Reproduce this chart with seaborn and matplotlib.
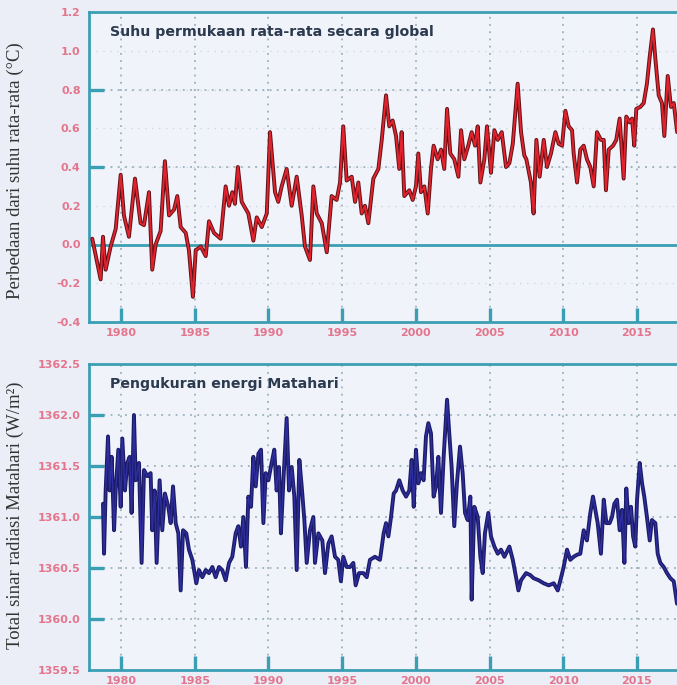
import matplotlib
matplotlib.use("Agg")
import matplotlib.pyplot as plt
import matplotlib.ticker as mticker
import numpy as np
import pandas as pd
import seaborn as sns

# global surface temperature anomaly (deg C)
temp_years = [
    1978.05, 1978.62, 1978.78, 1978.96, 1979.30, 1979.64, 1979.98, 1980.20, 1980.54, 1980.95,
    1981.33, 1981.56, 1981.90, 1982.12, 1982.35, 1982.69, 1982.98, 1983.26, 1983.60, 1983.82,
    1984.05, 1984.39, 1984.61, 1984.88, 1985.07, 1985.41, 1985.75, 1985.97, 1986.31, 1986.76,
    1987.10, 1987.33, 1987.55, 1987.73, 1987.93, 1988.19, 1988.64, 1988.98, 1989.21, 1989.55,
    1989.89, 1990.11, 1990.45, 1990.67, 1990.90, 1991.24, 1991.58, 1991.92, 1992.26, 1992.48,
    1992.82, 1993.05, 1993.28, 1993.62, 1993.96, 1994.29, 1994.63, 1994.86, 1995.08, 1995.31,
    1995.65, 1995.88, 1996.10, 1996.33, 1996.55, 1996.78, 1997.12, 1997.46, 1997.69, 1997.98,
    1998.20, 1998.43, 1998.66, 1998.88, 1999.04, 1999.22, 1999.56, 1999.79, 2000.01, 2000.17,
    2000.35, 2000.58, 2000.81, 2001.03, 2001.21, 2001.48, 2001.71, 2001.93, 2002.12, 2002.34,
    2002.61, 2002.89, 2003.07, 2003.29, 2003.56, 2003.79, 2004.02, 2004.20, 2004.38, 2004.65,
    2004.83, 2005.10, 2005.33, 2005.56, 2005.83, 2006.12, 2006.35, 2006.58, 2006.91, 2007.14,
    2007.36, 2007.50, 2007.81, 2007.99, 2008.18, 2008.40, 2008.68, 2008.90, 2009.17, 2009.47,
    2009.69, 2009.92, 2010.15, 2010.37, 2010.60, 2010.71, 2010.94, 2011.16, 2011.39, 2011.61,
    2011.84, 2012.07, 2012.29, 2012.56, 2012.75, 2012.90, 2013.09, 2013.38, 2013.60, 2013.83,
    2014.10, 2014.28, 2014.51, 2014.67, 2014.82, 2014.96, 2015.23, 2015.46, 2015.68, 2015.87,
    2016.09, 2016.25, 2016.48, 2016.70, 2016.86, 2017.09, 2017.31, 2017.50, 2017.73,
]
temp_vals = [
    0.03, -0.18, 0.04, -0.13, -0.01, 0.08, 0.36, 0.15, 0.04, 0.34,
    0.11, 0.10, 0.27, -0.13, 0.00, 0.07, 0.43, 0.15, 0.18, 0.25,
    0.09, 0.06, -0.03, -0.27, -0.03, -0.01, -0.06, 0.12, 0.06, 0.03,
    0.30, 0.20, 0.27, 0.21, 0.40, 0.22, 0.16, 0.02, 0.14, 0.09,
    0.16, 0.58, 0.27, 0.22, 0.30, 0.39, 0.20, 0.35, 0.15, -0.01,
    -0.08, 0.30, 0.16, 0.11, -0.04, 0.25, 0.23, 0.32, 0.61, 0.33,
    0.35, 0.22, 0.32, 0.16, 0.20, 0.11, 0.34, 0.39, 0.54, 0.77,
    0.61, 0.64, 0.56, 0.39, 0.58, 0.25, 0.28, 0.23, 0.30, 0.47,
    0.27, 0.30, 0.16, 0.39, 0.51, 0.44, 0.49, 0.39, 0.70, 0.47,
    0.44, 0.35, 0.59, 0.44, 0.51, 0.58, 0.51, 0.61, 0.32, 0.44,
    0.61, 0.37, 0.59, 0.54, 0.58, 0.40, 0.42, 0.52, 0.83, 0.58,
    0.46, 0.44, 0.32, 0.16, 0.54, 0.35, 0.54, 0.40, 0.47, 0.58,
    0.52, 0.51, 0.69, 0.61, 0.59, 0.47, 0.32, 0.49, 0.51, 0.44,
    0.40, 0.30, 0.58, 0.54, 0.54, 0.28, 0.49, 0.51, 0.54, 0.65,
    0.34, 0.66, 0.63, 0.65, 0.51, 0.70, 0.71, 0.73, 0.83, 0.97,
    1.11, 0.96, 0.77, 0.73, 0.56, 0.87, 0.71, 0.73, 0.58,
]

# total solar irradiance (W/m2)
tsi_years = [
    1978.78, 1978.85, 1978.96, 1979.12, 1979.23, 1979.37, 1979.53, 1979.64, 1979.82, 1979.98,
    1980.09, 1980.27, 1980.43, 1980.59, 1980.72, 1980.88, 1981.00, 1981.22, 1981.40, 1981.56,
    1981.79, 1982.01, 1982.12, 1982.28, 1982.42, 1982.62, 1982.80, 1982.98, 1983.21, 1983.37,
    1983.53, 1983.71, 1983.89, 1984.05, 1984.21, 1984.43, 1984.61, 1984.84, 1985.11, 1985.29,
    1985.52, 1985.75, 1985.97, 1986.20, 1986.42, 1986.65, 1986.87, 1987.10, 1987.33, 1987.55,
    1987.78, 1987.96, 1988.14, 1988.30, 1988.48, 1988.64, 1988.82, 1988.98, 1989.14, 1989.32,
    1989.50, 1989.66, 1989.82, 1990.00, 1990.22, 1990.40, 1990.56, 1990.72, 1990.85, 1991.01,
    1991.24, 1991.40, 1991.58, 1991.76, 1991.92, 1992.10, 1992.26, 1992.44, 1992.60, 1992.82,
    1993.05, 1993.16, 1993.39, 1993.66, 1993.84, 1994.07, 1994.29, 1994.52, 1994.74, 1994.92,
    1995.08, 1995.31, 1995.54, 1995.76, 1995.92, 1996.15, 1996.44, 1996.67, 1996.89, 1997.23,
    1997.57, 1997.82, 1997.98, 1998.14, 1998.32, 1998.50, 1998.66, 1998.88, 1999.11, 1999.34,
    1999.56, 1999.72, 1999.86, 2000.01, 2000.17, 2000.35, 2000.53, 2000.69, 2000.85, 2001.03,
    2001.21, 2001.37, 2001.53, 2001.71, 2001.89, 2002.12, 2002.27, 2002.43, 2002.61, 2002.79,
    2003.00, 2003.18, 2003.34, 2003.52, 2003.70, 2003.79, 2003.97, 2004.20, 2004.38, 2004.54,
    2004.69, 2004.92, 2005.10, 2005.33, 2005.56, 2005.78, 2006.01, 2006.35, 2006.58, 2006.80,
    2006.96, 2007.14, 2007.48, 2007.77, 2007.99, 2008.33, 2008.68, 2009.02, 2009.36, 2009.63,
    2009.81, 2010.03, 2010.26, 2010.48, 2010.71, 2010.94, 2011.16, 2011.39, 2011.61, 2011.84,
    2012.02, 2012.18, 2012.34, 2012.56, 2012.75, 2012.93, 2013.15, 2013.31, 2013.47, 2013.65,
    2013.83, 2013.99, 2014.15, 2014.28, 2014.44, 2014.60, 2014.74, 2014.89, 2015.01, 2015.19,
    2015.35, 2015.50, 2015.68, 2015.87, 2016.02, 2016.25, 2016.41, 2016.59, 2016.82, 2017.04,
    2017.27, 2017.50, 2017.72,
]
tsi_vals = [
    1361.13, 1360.64, 1361.26, 1361.79, 1361.26, 1361.59, 1360.87, 1361.26, 1361.66, 1361.10,
    1361.77, 1361.26, 1361.53, 1361.59, 1361.04, 1362.00, 1361.36, 1361.53, 1360.55, 1361.46,
    1361.40, 1361.43, 1360.87, 1361.26, 1360.55, 1361.36, 1360.87, 1361.23, 1361.10, 1360.94,
    1361.30, 1360.94, 1360.84, 1360.28, 1360.87, 1360.84, 1360.68, 1360.58, 1360.35, 1360.48,
    1360.41, 1360.48, 1360.45, 1360.51, 1360.41, 1360.51, 1360.48, 1360.38, 1360.55, 1360.61,
    1360.84, 1360.91, 1360.71, 1361.00, 1360.51, 1361.20, 1361.10, 1361.59, 1361.30, 1361.62,
    1361.66, 1360.94, 1361.43, 1361.36, 1361.53, 1361.66, 1361.26, 1361.49, 1360.84, 1361.33,
    1361.97, 1361.26, 1361.49, 1361.20, 1360.48, 1361.56, 1361.30, 1360.97, 1360.55, 1360.87,
    1361.00, 1360.55, 1360.84, 1360.77, 1360.45, 1360.74, 1360.81, 1360.61, 1360.58, 1360.37,
    1360.61, 1360.51, 1360.51, 1360.55, 1360.33, 1360.45, 1360.45, 1360.41, 1360.58, 1360.61,
    1360.58, 1360.84, 1360.94, 1360.81, 1361.00, 1361.23, 1361.26, 1361.36, 1361.26, 1361.20,
    1361.26, 1361.56, 1361.10, 1361.66, 1361.33, 1361.43, 1361.36, 1361.79, 1361.92, 1361.82,
    1361.20, 1361.30, 1361.59, 1361.04, 1361.59, 1362.15, 1361.82, 1361.49, 1360.91, 1361.33,
    1361.69, 1361.43, 1361.04, 1360.97, 1361.20, 1360.19, 1361.10, 1361.00, 1360.61, 1360.45,
    1360.84, 1361.04, 1360.81, 1360.71, 1360.64, 1360.68, 1360.61, 1360.71, 1360.58, 1360.41,
    1360.28, 1360.38, 1360.45, 1360.43, 1360.40, 1360.38, 1360.35, 1360.33, 1360.35, 1360.28,
    1360.38, 1360.51, 1360.68, 1360.58, 1360.61, 1360.63, 1360.64, 1360.87, 1360.77, 1361.04,
    1361.20, 1361.07, 1360.94, 1360.64, 1361.17, 1360.94, 1360.94, 1361.00, 1361.13, 1361.17,
    1360.87, 1361.07, 1360.55, 1361.28, 1360.94, 1361.10, 1360.81, 1360.71, 1361.17, 1361.53,
    1361.33, 1361.20, 1361.00, 1360.77, 1360.97, 1360.94, 1360.64, 1360.55, 1360.51, 1360.45,
    1360.40, 1360.37, 1360.15,
]

year_ticks = [1980, 1985, 1990, 1995, 2000, 2005, 2010, 2015]
temp_ticks = [-0.4, -0.2, 0.0, 0.2, 0.4, 0.6, 0.8, 1.0, 1.2]
tsi_ticks = [1359.5, 1360.0, 1360.5, 1361.0, 1361.5, 1362.0, 1362.5]

df_temp = pd.DataFrame({"year": temp_years, "val": temp_vals})
df_tsi = pd.DataFrame({"year": tsi_years, "val": tsi_vals})

sns.set_style("white")
plt.rcParams["font.family"] = ["DejaVu Sans"]

BG = "#eceef7"
FACE = "#f1f3fa"
TEAL = "#3b9fb3"
GRID = "#8aa6b2"
TICKC = "#e2607a"

fig = plt.figure(figsize=(6.77, 6.85), dpi=100, facecolor=BG)
ax1 = fig.add_axes([89 / 677, 1 - 322 / 685, 588 / 677, 310 / 685])
ax2 = fig.add_axes([89 / 677, 1 - 670 / 685, 588 / 677, 306 / 685])

sns.lineplot(data=df_temp, x="year", y="val", ax=ax1, color="#5c1318", lw=2.8, zorder=3)
sns.lineplot(data=df_temp, x="year", y="val", ax=ax1, color="#e2222c", lw=1.4, zorder=4)
sns.lineplot(data=df_tsi, x="year", y="val", ax=ax2, color="#1b1b66", lw=2.8, zorder=3)
sns.lineplot(data=df_tsi, x="year", y="val", ax=ax2, color="#2e2ea0", lw=1.0, zorder=4)

ax1.axhline(0, color=TEAL, lw=2, zorder=2)

# (axes, tick values, limits, strong grid/tick rows, faint grid, title, y label, label centre px)
panels = [
    (ax1, temp_ticks, (-0.4, 1.2), [0.8, 0.4], True,
     "Suhu permukaan rata-rata secara global", "Perbedaan dari suhu rata-rata (°C)", 171),
    (ax2, tsi_ticks, (1359.5, 1362.5), [1360.0, 1360.5, 1361.0, 1361.5, 1362.0], False,
     "Pengukuran energi Matahari", "Total sinar radiasi Matahari (W/m²)", 515),
]

for ax, yt, ylim, ystrong, faint, title, ylabel, ylab_y in panels:
    ax.set_facecolor(FACE)
    ax.set_xlim(1977.83, 2017.72)
    ax.set_ylim(*ylim)
    ax.set_xticks(year_ticks)
    ax.set_xticklabels([str(y) for y in year_ticks])
    ax.set_yticks(yt)
    ax.set_yticklabels([f"{v:.1f}" for v in yt])
    ax.yaxis.remove_overlapping_locs = False
    ax.yaxis.set_minor_locator(mticker.FixedLocator(ystrong))
    ax.tick_params(axis="y", which="major", left=True, length=0, pad=6, labelsize=8,
                   labelcolor=TICKC)
    ax.tick_params(axis="y", which="minor", left=True, direction="in", length=11, width=2.4,
                   color=TEAL)
    ax.tick_params(axis="x", which="major", bottom=True, direction="in", length=10, width=2.4,
                   color=TEAL, pad=4, labelsize=8, labelcolor=TICKC)
    for lab in ax.get_xticklabels() + ax.get_yticklabels():
        lab.set_fontweight("bold")
        lab.set_alpha(0.85)
    ax.grid(True, axis="x", which="major", color=GRID, ls=(0, (1, 3)), lw=1.3, alpha=0.85)
    ax.grid(True, axis="y", which="minor", color=GRID, ls=(0, (1, 3)), lw=1.3, alpha=0.85)
    if faint:
        ax.grid(True, axis="y", which="major", color=GRID, ls=(0, (1, 4)), lw=1.0, alpha=0.35)
    for side in ["left", "top", "bottom"]:
        ax.spines[side].set_color(TEAL)
        ax.spines[side].set_linewidth(2)
    ax.spines["right"].set_visible(False)
    ax.set_xlabel("")
    ax.set_ylabel("")
    ax.text(0.036, 0.935, title, transform=ax.transAxes, fontsize=10.2, fontweight="bold",
            color="#2b3a4e", ha="left", va="center")
    fig.text(15 / 677, 1 - ylab_y / 685, ylabel, rotation=90, ha="center", va="center",
             fontsize=13.5, color="#333333", family=["Liberation Serif", "DejaVu Serif"])

fig.savefig("out.png", dpi=100, facecolor=BG)
